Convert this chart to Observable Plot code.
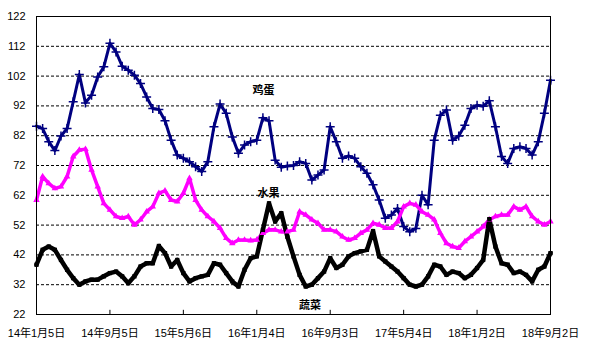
<!DOCTYPE html>
<html><head><meta charset="utf-8">
<script src="https://cdn.jsdelivr.net/npm/d3@7"></script>
<script src="https://cdn.jsdelivr.net/npm/@observablehq/plot@0.6"></script>
<style>html,body{margin:0;padding:0;background:#fff} svg{display:block}</style>
</head><body><div id="chart"></div>
<script>
// Category axis (days since 14年1月5日); a tick label every 243 days
const tickLabels = ["14年1月5日","14年9月5日","15年5月6日","16年1月4日","16年9月3日","17年5月4日","18年1月2日","18年9月2日"];
const tickStepDays = 243;
// readings taken every 1/12 of a tick interval
const readingsPerTick = 12;
const yTicks = [22,32,42,52,62,72,82,92,102,112,122];

const egg = [85.2,84.4,80.0,77.0,81.9,84.4,93.4,102.5,93.0,95.6,101.7,105.1,113.0,110.1,105.3,104.0,102.3,99.5,95.0,91.1,90.8,
  87.0,80.5,75.5,74.4,73.3,71.6,70.0,73.3,85.0,92.6,89.5,81.6,76.1,78.9,80.0,80.5,88.0,87.0,73.8,71.4,71.8,
  72.0,73.3,72.7,67.1,68.8,70.5,85.0,80.0,74.4,75.2,74.4,71.6,69.4,65.5,60.4,54.3,55.4,57.6,51.5,49.8,50.9,
  62.0,58.8,80.5,88.9,90.6,80.5,81.9,85.5,91.1,92.2,91.9,93.7,85.0,75.0,72.7,77.7,78.3,77.7,75.5,80.0,89.5,100.6];
const fruit = [60.4,68.3,66.0,64.3,64.9,68.3,75.0,77.2,77.5,70.5,64.9,59.3,57.1,54.9,54.3,54.9,52.1,53.8,56.5,58.2,62.7,
  63.5,60.4,59.9,62.7,67.7,60.4,57.1,54.9,53.2,51.0,47.6,45.9,47.0,47.0,46.8,47.0,49.3,50.4,50.4,49.8,49.8,
  50.4,56.5,55.4,53.8,52.6,50.4,50.4,49.8,48.1,47.0,47.6,49.3,50.4,52.6,52.1,51.0,51.0,53.2,58.2,59.3,58.8,
  56.5,55.4,53.8,49.3,45.9,44.8,44.3,46.5,48.1,49.8,51.5,53.8,54.9,55.4,55.4,58.2,57.1,58.2,54.9,53.2,52.1,53.2];
const veg = [38.7,43.7,44.8,43.7,40.3,37.0,34.2,32.0,33.1,33.7,33.7,34.8,35.9,36.4,34.8,32.5,34.8,38.1,39.2,39.2,45.0,
  42.6,38.1,40.3,35.9,33.1,34.2,34.8,35.3,39.2,38.7,35.9,33.1,31.4,37.0,40.9,41.5,50.4,59.3,53.2,56.0,48.1,
  41.5,35.3,31.4,32.0,34.2,36.4,40.9,37.6,38.7,41.5,42.6,43.2,43.7,50.0,41.5,39.8,38.1,36.4,34.2,32.0,31.4,
  32.0,34.8,38.7,38.1,35.3,36.4,35.9,34.2,35.3,37.6,40.3,54.0,44.8,39.2,38.7,35.9,36.4,35.3,33.1,37.0,38.1,42.6];

const seriesNames = ["鸡蛋","水果","蔬菜"];
const seriesColors = ["#000080","#ff00ff","#000000"];
const seriesValues = [egg, fruit, veg];
const seriesWidths = [3, 3.5, 4.5];
const seriesSymbols = ["plus","triangle","square"];
// annotation anchor points (day, value)
const labelDays = [751, 768, 905];
const labelValues = [97.3, 62.6, 25.0];

const step = tickStepDays / readingsPerTick;
const xTicks = tickLabels.map((_, i) => i * tickStepDays);
const rows = seriesValues.map((vals, s) => vals.map((v, i) => ({day: i * step, value: v, series: seriesNames[s]})));
const labels = seriesNames.map((n, i) => ({name: n, day: labelDays[i], value: labelValues[i]}));

const font = "'Liberation Sans', Arial, 'Noto Sans CJK SC', sans-serif";
const chart = Plot.plot({
  width: 600, height: 351,
  marginLeft: 36, marginRight: 50, marginTop: 16, marginBottom: 37,
  style: {fontFamily: font, fontSize: "11px", color: "#000", background: "#fff", overflow: "visible"},
  x: {type: "linear", domain: [0, (tickLabels.length - 1) * tickStepDays]},
  y: {domain: [22, 122]},
  marks: [
    Plot.gridY(yTicks.slice(1, -1), {stroke: "#000", strokeOpacity: 1, strokeDasharray: "3,2", strokeWidth: 1}),
    ...rows.map((r, s) => Plot.line(r, {x: "day", y: "value", stroke: seriesColors[s], strokeWidth: seriesWidths[s], strokeLinejoin: "round"})),
    ...rows.map((r, s) => Plot.dot(r, {x: "day", y: "value", symbol: seriesSymbols[s], r: s === 0 ? 3 : 2.4,
      stroke: seriesColors[s], strokeWidth: s === 0 ? 1.5 : 0, fill: s === 0 ? "none" : seriesColors[s]})),
    Plot.ruleX(xTicks, {y1: 22, y2: 23.4, stroke: "#000"}),
    Plot.frame({stroke: "#000", strokeWidth: 1}),
    Plot.axisY(yTicks, {tickSize: 0, tickPadding: 11, tickFormat: d => String(d), fontSize: 11, label: null}),
    Plot.axisX(xTicks, {tickSize: 0, tickPadding: 15, tickFormat: (d, i) => tickLabels[i], fontSize: 11, label: null}),
    Plot.text(labels, {x: "day", y: "value", text: "name", fontWeight: "bold", fontSize: 11, fill: "#000"})
  ]
});
document.getElementById("chart").appendChild(chart);
</script>
</body></html>
